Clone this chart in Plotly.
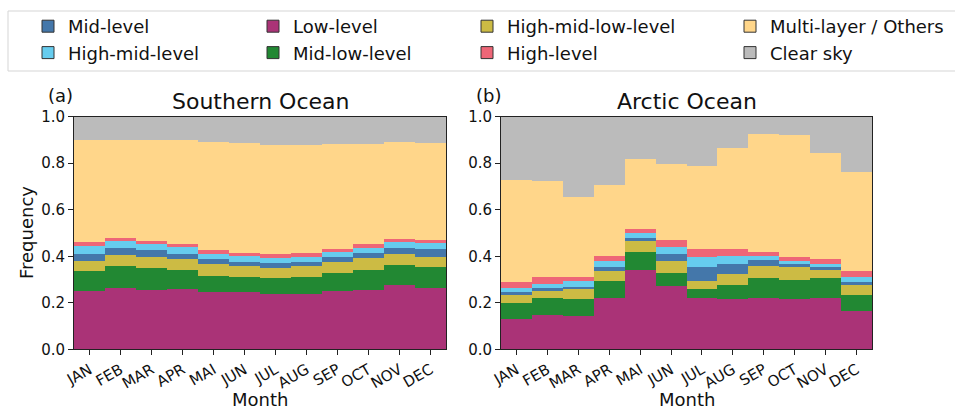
import plotly.graph_objects as go

months = ["JAN", "FEB", "MAR", "APR", "MAI", "JUN", "JUL", "AUG", "SEP", "OCT", "NOV", "DEC"]

series_names = ["Low-level", "Mid-low-level", "High-mid-low-level", "Mid-level",
                "High-mid-level", "High-level", "Multi-layer / Others", "Clear sky"]
colors = ["#AA3377", "#228833", "#CCBB44", "#4477AA", "#66CCEE", "#EE6677", "#FFD68A", "#BBBBBB"]
legend_ids = ["legend2", "legend2", "legend3", "legend", "legend", "legend3", "legend4", "legend4"]

# Southern Ocean fractions
so_low = [0.250, 0.264, 0.256, 0.259, 0.247, 0.246, 0.241, 0.241, 0.250, 0.256, 0.276, 0.267]
so_midlow = [0.086, 0.095, 0.094, 0.082, 0.069, 0.065, 0.065, 0.070, 0.079, 0.085, 0.087, 0.086]
so_highmidlow = [0.043, 0.047, 0.047, 0.048, 0.051, 0.048, 0.044, 0.048, 0.047, 0.052, 0.047, 0.044]
so_mid = [0.034, 0.030, 0.030, 0.021, 0.022, 0.017, 0.021, 0.017, 0.021, 0.021, 0.026, 0.034]
so_highmid = [0.034, 0.030, 0.026, 0.030, 0.021, 0.025, 0.022, 0.021, 0.022, 0.022, 0.025, 0.026]
so_high = [0.014, 0.013, 0.013, 0.013, 0.017, 0.013, 0.017, 0.017, 0.012, 0.017, 0.013, 0.013]
so_multi = [0.438, 0.424, 0.437, 0.450, 0.467, 0.476, 0.471, 0.467, 0.455, 0.433, 0.420, 0.420]
so_clear = [0.101, 0.097, 0.097, 0.097, 0.106, 0.110, 0.119, 0.119, 0.114, 0.114, 0.106, 0.110]

# Arctic Ocean fractions
ao_low = [0.130, 0.147, 0.144, 0.224, 0.344, 0.273, 0.221, 0.216, 0.224, 0.216, 0.224, 0.164]
ao_midlow = [0.069, 0.074, 0.072, 0.069, 0.077, 0.058, 0.038, 0.060, 0.082, 0.085, 0.082, 0.069]
ao_highmidlow = [0.034, 0.029, 0.043, 0.047, 0.048, 0.048, 0.038, 0.047, 0.055, 0.052, 0.038, 0.043]
ao_mid = [0.013, 0.013, 0.012, 0.013, 0.012, 0.034, 0.056, 0.047, 0.026, 0.013, 0.013, 0.013]
ao_highmid = [0.017, 0.017, 0.022, 0.026, 0.022, 0.030, 0.043, 0.034, 0.017, 0.013, 0.013, 0.021]
ao_high = [0.026, 0.030, 0.017, 0.022, 0.017, 0.030, 0.038, 0.030, 0.017, 0.017, 0.021, 0.026]
ao_multi = [0.441, 0.416, 0.347, 0.308, 0.300, 0.326, 0.356, 0.433, 0.506, 0.527, 0.455, 0.428]
ao_clear = [0.270, 0.274, 0.343, 0.291, 0.180, 0.201, 0.210, 0.133, 0.073, 0.077, 0.154, 0.236]

so_data = [so_low, so_midlow, so_highmidlow, so_mid, so_highmid, so_high, so_multi, so_clear]
ao_data = [ao_low, ao_midlow, ao_highmidlow, ao_mid, ao_highmid, ao_high, ao_multi, ao_clear]

W, H = 955, 410
def px(x):
    return x / W
def py(y):
    return 1 - y / H

FONT = "DejaVu Sans"
TXT = "#111111"
fig = go.Figure()

for i, name in enumerate(series_names):
    fig.add_trace(go.Bar(
        x=months, y=so_data[i], name=name, width=1,
        marker=dict(color=colors[i], line=dict(width=0)),
        xaxis="x", yaxis="y", showlegend=False,
    ))
for i, name in enumerate(series_names):
    fig.add_trace(go.Bar(
        x=months, y=ao_data[i], name=name, width=1,
        marker=dict(color=colors[i], line=dict(width=0)),
        xaxis="x2", yaxis="y2", showlegend=False,
    ))
# legend entries (edged patches, like the reference legend)
for i, name in enumerate(series_names):
    fig.add_trace(go.Bar(
        x=[None], y=[None], name=name,
        marker=dict(color=colors[i], line=dict(width=1, color="#333333")),
        legend=legend_ids[i], xaxis="x", yaxis="y", showlegend=True, hoverinfo="skip",
    ))

ax_common = dict(
    showline=True, linecolor="#222222", linewidth=1, mirror=True,
    ticks="outside", ticklen=5, tickcolor="#222222", showgrid=False, zeroline=False,
    tickfont=dict(family=FONT, size=15, color=TXT), automargin=False,
)
xl = (74, 446)
xr = (501, 872)
ytop, ybot = 116.7, 349.3

fig.update_layout(
    width=W, height=H, margin=dict(l=0, r=0, t=0, b=0, autoexpand=False),
    paper_bgcolor="white", plot_bgcolor="white",
    barmode="stack", bargap=0,
    font=dict(family=FONT, size=15, color=TXT),
    xaxis=dict(domain=[px(xl[0]), px(xl[1])], anchor="y", tickangle=-30,
               range=[-0.5, 11.5], type="category", **ax_common),
    yaxis=dict(domain=[py(ybot), py(ytop)], anchor="x", range=[0, 1],
               tickvals=[0, 0.2, 0.4, 0.6, 0.8, 1.0], tickformat=".1f", **ax_common),
    xaxis2=dict(domain=[px(xr[0]), px(xr[1])], anchor="y2", tickangle=-30,
                range=[-0.5, 11.5], type="category", **ax_common),
    yaxis2=dict(domain=[py(ybot), py(ytop)], anchor="x2", range=[0, 1],
                tickvals=[0, 0.2, 0.4, 0.6, 0.8, 1.0], tickformat=".1f", **ax_common),
)

leg_common = dict(orientation="v", yanchor="top", y=py(8), xanchor="left",
                  bgcolor="rgba(0,0,0,0)", borderwidth=0, tracegroupgap=0,
                  font=dict(family=FONT, size=18, color=TXT), traceorder="normal")
fig.update_layout(
    legend=dict(x=px(28), **leg_common),
    legend2=dict(x=px(253), **leg_common),
    legend3=dict(x=px(467), **leg_common),
    legend4=dict(x=px(730), **leg_common),
)

# legend frame
fig.add_shape(type="rect", xref="paper", yref="paper",
              x0=px(8), x1=px(962), y0=py(71), y1=py(11),
              line=dict(color="#d5d5d5", width=1), fillcolor="rgba(0,0,0,0)", layer="below")

ann = []
ann.append(dict(text="Southern Ocean", x=px((xl[0] + xl[1]) / 2), y=py(101),
                font=dict(size=22, family=FONT, color=TXT)))
ann.append(dict(text="Arctic Ocean", x=px((xr[0] + xr[1]) / 2), y=py(101),
                font=dict(size=22, family=FONT, color=TXT)))
ann.append(dict(text="(a)", x=px(60), y=py(95), font=dict(size=18, family=FONT, color=TXT)))
ann.append(dict(text="(b)", x=px(488), y=py(95), font=dict(size=18, family=FONT, color=TXT)))
ann.append(dict(text="Month", x=px((xl[0] + xl[1]) / 2), y=py(399), font=dict(size=18, family=FONT, color=TXT)))
ann.append(dict(text="Month", x=px((xr[0] + xr[1]) / 2), y=py(399), font=dict(size=18, family=FONT, color=TXT)))
ann.append(dict(text="Frequency", x=px(27), y=py(233), textangle=-90, font=dict(size=18, family=FONT, color=TXT)))
for a in ann:
    a.update(xref="paper", yref="paper", showarrow=False, xanchor="center", yanchor="middle")
fig.update_layout(annotations=ann)

fig.write_html("out.html")
